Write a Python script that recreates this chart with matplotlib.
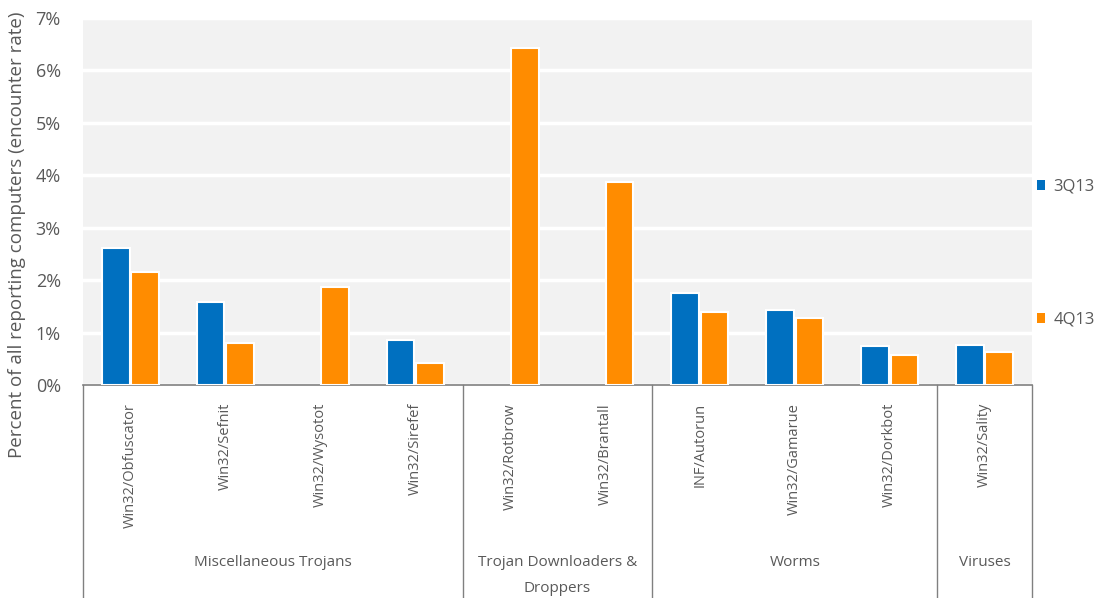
import matplotlib
matplotlib.use("Agg")
import matplotlib.pyplot as plt
import matplotlib.transforms as mtransforms
import numpy as np

categories = ["Win32/Obfuscator", "Win32/Sefnit", "Win32/Wysotot", "Win32/Sirefef",
              "Win32/Rotbrow", "Win32/Brantall",
              "INF/Autorun", "Win32/Gamarue", "Win32/Dorkbot",
              "Win32/Sality"]
q3 = [2.61, 1.59, 0.0, 0.86, 0.0, 0.0, 1.76, 1.43, 0.74, 0.76]
q4 = [2.16, 0.80, 1.87, 0.42, 6.43, 3.87, 1.40, 1.28, 0.57, 0.63]
groups = ["Miscellaneous Trojans", "Trojan Downloaders &\nDroppers", "Worms", "Viruses"]
group_sizes = [4, 2, 3, 1]
series_names = ["3Q13", "4Q13"]
yticks = [0, 1, 2, 3, 4, 5, 6, 7]

blue = "#0070c0"
orange = "#ff8c00"
txt = "#595959"

plt.rcParams['font.family'] = ['Open Sans', 'DejaVu Sans']

fig = plt.figure(figsize=(11.02, 5.98), dpi=100)
ax = fig.add_axes([83/1102, 1-385/598, (1032-83)/1102, (385-18)/598])
ax.set_facecolor("#f2f2f2")

x = np.arange(len(categories))
w = 0.29
b1 = ax.bar(x - w/2 - 0.01, [v if v > 0 else np.nan for v in q3], width=w, color=blue,
            edgecolor="white", linewidth=1.5, label=series_names[0], zorder=3)
b2 = ax.bar(x + w/2 + 0.01, q4, width=w, color=orange,
            edgecolor="white", linewidth=1.5, label=series_names[1], zorder=3)

ax.set_xlim(-0.5, len(categories) - 0.5)
ax.set_ylim(0, 7)
ax.set_yticks(yticks)
ax.set_yticklabels([f"{t}%" for t in yticks], fontsize=13, color=txt)
ax.grid(axis="y", color="white", linewidth=2.5, zorder=1)
ax.set_axisbelow(True)
ax.tick_params(axis="y", length=0, pad=16)
ax.tick_params(axis="x", length=0, pad=13)
ax.set_xticks(x)
ax.set_xticklabels(categories, rotation=90, fontsize=10.5, color=txt, va="top")
for s in ["top", "right", "left"]:
    ax.spines[s].set_visible(False)
ax.spines["bottom"].set_color("#808080")
ax.spines["bottom"].set_linewidth(1.2)

ax.set_ylabel("Percent of all reporting computers (encounter rate)", fontsize=13.5,
              color=txt)
ax.yaxis.set_label_coords(-0.0596, 0.41)

# group separators and labels
trans = mtransforms.blended_transform_factory(ax.transData, ax.transAxes)
bounds = np.concatenate([[0], np.cumsum(group_sizes)]) - 0.5
for bx in bounds:
    ax.plot([bx, bx], [0, -0.6], transform=trans, color="#808080", linewidth=1.0,
            clip_on=False, zorder=5)
for i, g in enumerate(groups):
    cx = (bounds[i] + bounds[i+1]) / 2
    ax.text(cx, -0.462, g, transform=trans, ha="center", va="top", fontsize=11,
            color=txt, linespacing=2.0)

leg = ax.legend(handles=[b1, b2], loc="upper left", bbox_to_anchor=(1.0053, 0.5627),
                frameon=False, fontsize=12, labelspacing=7.03, handlelength=0.5,
                handleheight=0.55, handletextpad=0.5, borderaxespad=0, borderpad=0)
for t in leg.get_texts():
    t.set_color(txt)
for h in leg.legend_handles:
    h.set_edgecolor("none")

fig.savefig("out.png", dpi=100)
